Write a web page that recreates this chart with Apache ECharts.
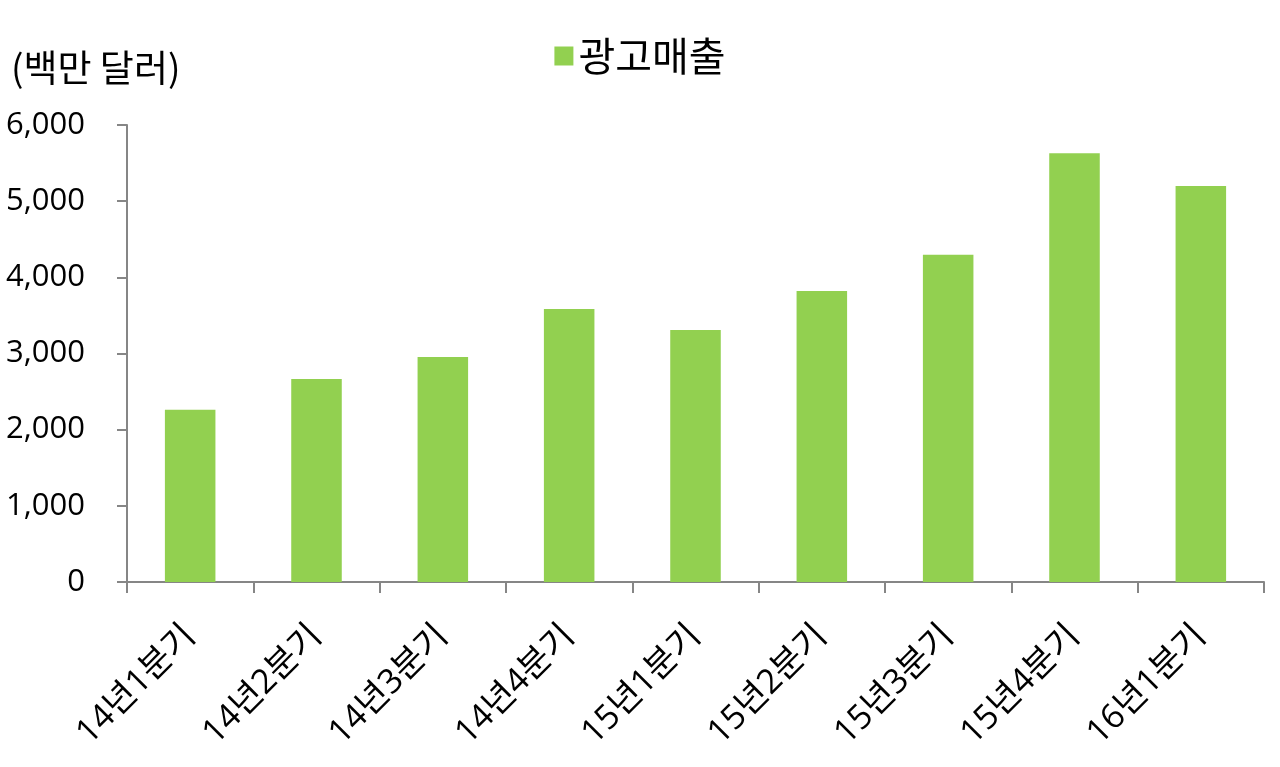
<!DOCTYPE html>
<html><head><meta charset="utf-8">
<script src="https://cdn.jsdelivr.net/npm/echarts@6/dist/echarts.min.js"></script>
<style>html,body{margin:0;padding:0;background:#fff}#c{width:1280px;height:767px}</style>
</head><body><div id="c"></div>
<script>
const categories = ['14년1분기','14년2분기','14년3분기','14년4분기','15년1분기','15년2분기','15년3분기','15년4분기','16년1분기'];
const adRevenue = [2260, 2665, 2955, 3585, 3310, 3820, 4295, 5630, 5200];
const seriesName = '광고매출';
const unitLabel = '(백만 달러)';
const FONT = '"Open Sans", "Noto Sans CJK KR", sans-serif';
const KFONT = '"Noto Sans CJK KR", sans-serif';
const chart = echarts.init(document.getElementById('c'));
chart.setOption({
  animation: false,
  textStyle: { fontFamily: FONT },
  title: { text: unitLabel, left: 6, top: 44, textStyle: { fontFamily: KFONT, fontSize: 37, fontWeight: 'normal', color: '#000' } },
  legend: { top: 31, left: 'center', itemWidth: 19, itemHeight: 19, itemGap: 9, icon: 'rect',
    textStyle: { fontFamily: KFONT, fontSize: 40, color: '#000' }, data: [seriesName] },
  grid: { left: 127, right: 16, top: 125, bottom: 185 },
  xAxis: { type: 'category', data: categories,
    axisLine: { lineStyle: { color: '#868686', width: 2 } },
    axisTick: { show: true, length: 11, alignWithLabel: false, lineStyle: { color: '#868686', width: 2 } },
    axisLabel: { rotate: 45, fontSize: 34, color: '#000', margin: 49, fontFamily: FONT } },
  yAxis: { type: 'value', min: 0, max: 6000, interval: 1000,
    axisLine: { show: true, lineStyle: { color: '#868686', width: 2 } },
    axisTick: { show: true, length: 10, lineStyle: { color: '#868686', width: 2 } },
    splitLine: { show: false },
    axisLabel: { fontSize: 31, color: '#000', margin: 42, fontFamily: FONT,
      formatter: v => v.toLocaleString('en-US') } },
  series: [{ name: seriesName, type: 'bar', data: adRevenue, barWidth: '40%',
    itemStyle: { color: '#92D050' } }]
});
</script></body></html>
